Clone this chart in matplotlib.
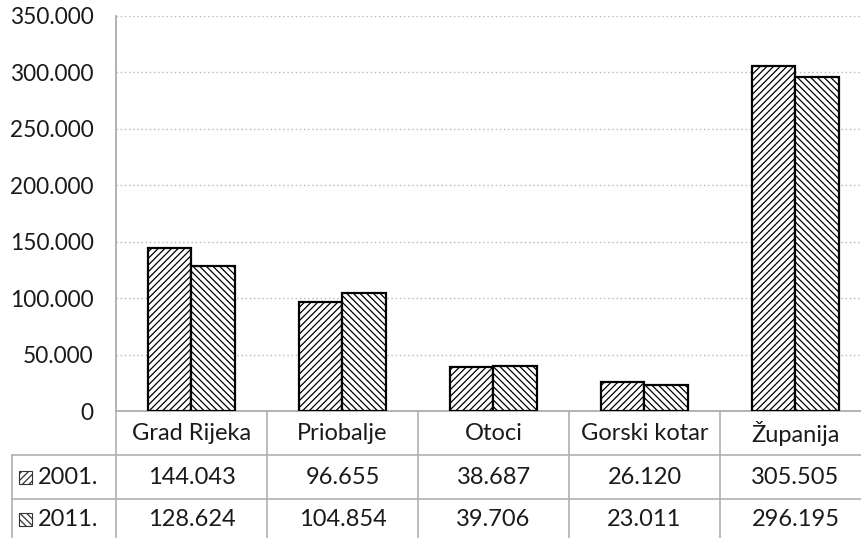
import numpy as np
import matplotlib
matplotlib.use('Agg')
import matplotlib.pyplot as plt
from matplotlib.patches import Rectangle
from matplotlib.lines import Line2D

plt.rcParams['font.family'] = ['Lato', 'DejaVu Sans']
plt.rcParams['hatch.color'] = '#6e6e6e'
plt.rcParams['hatch.linewidth'] = 0.9

categories = ['Grad Rijeka', 'Priobalje', 'Otoci', 'Gorski kotar', 'Županija']
series_names = ['2001.', '2011.']
y2001 = [144043, 96655, 38687, 26120, 305505]
y2011 = [128624, 104854, 39706, 23011, 296195]
yticks = [0, 50000, 100000, 150000, 200000, 250000, 300000, 350000]

W, H = 862, 538
fig = plt.figure(figsize=(W / 100, H / 100), dpi=100)
fs = 17

# plot area (right edge runs slightly past the image, as in the reference)
left, right, top, bottom = 116, 871, 16, 411
ax = fig.add_axes([left / W, 1 - bottom / H, (right - left) / W, (bottom - top) / H])

x = np.arange(len(categories))
bw = 0.29
hatches = ['/////', '\\\\\\\\\\']
ax.bar(x - bw / 2, y2001, bw, facecolor='white', edgecolor='black', linewidth=1.6, hatch=hatches[0], zorder=3)
ax.bar(x + bw / 2, y2011, bw, facecolor='white', edgecolor='black', linewidth=1.6, hatch=hatches[1], zorder=3)

ax.set_xlim(-0.5, len(categories) - 0.5)
ax.set_ylim(0, 350000)
ax.set_yticks(yticks)
ax.set_yticklabels(['{:,}'.format(v).replace(',', '.') for v in yticks], fontsize=16.3, color='#1a1a1a')
ax.tick_params(axis='y', length=0, pad=16)
ax.set_xticks([])
ax.yaxis.grid(True, color='#b8b8b8', linestyle=(0, (1, 2)), linewidth=1)
ax.set_axisbelow(True)
for s in ['top', 'right']:
    ax.spines[s].set_visible(False)
ax.spines['left'].set_color('#a6a6a6')
ax.spines['bottom'].set_color('#a6a6a6')
ax.spines['left'].set_linewidth(1.2)
ax.spines['bottom'].set_linewidth(1.2)

# data table below the plot
gc = '#b0b0b0'
def fy(py):
    return 1 - py / H
def fx(px):
    return px / W

for py in [455, 499]:
    fig.add_artist(Line2D([fx(12), 1], [fy(py), fy(py)], color=gc, lw=1.2))
fig.add_artist(Line2D([fx(12), fx(12)], [fy(455), 0], color=gc, lw=1.2))
cw = (right - left) / len(categories)
for i in range(len(categories) + 1):
    px = left + i * cw
    fig.add_artist(Line2D([fx(px), fx(px)], [fy(bottom), 0], color=gc, lw=1.2))

header_y = (bottom + 455) / 2
r1_y = (455 + 499) / 2
r2_y = (499 + 538) / 2 + 1
for i, cat in enumerate(categories):
    cx = left + (i + 0.5) * cw
    fig.text(fx(cx), fy(header_y), cat, ha='center', va='center', fontsize=fs, color='#1a1a1a')
    fig.text(fx(cx), fy(r1_y), '{:,}'.format(y2001[i]).replace(',', '.'), ha='center', va='center', fontsize=fs, color='#1a1a1a')
    fig.text(fx(cx), fy(r2_y), '{:,}'.format(y2011[i]).replace(',', '.'), ha='center', va='center', fontsize=fs, color='#1a1a1a')

for name, hatch, ry in zip(series_names, hatches, [r1_y, r2_y]):
    sq = 13
    fig.add_artist(Rectangle((fx(19), fy(ry + sq / 2)), sq / W, sq / H, facecolor='white',
                             edgecolor='#333333', lw=0.8, hatch=hatch, transform=fig.transFigure))
    fig.text(fx(38), fy(ry), name, ha='left', va='center', fontsize=fs, color='#1a1a1a')

fig.savefig('out.png', dpi=100)
